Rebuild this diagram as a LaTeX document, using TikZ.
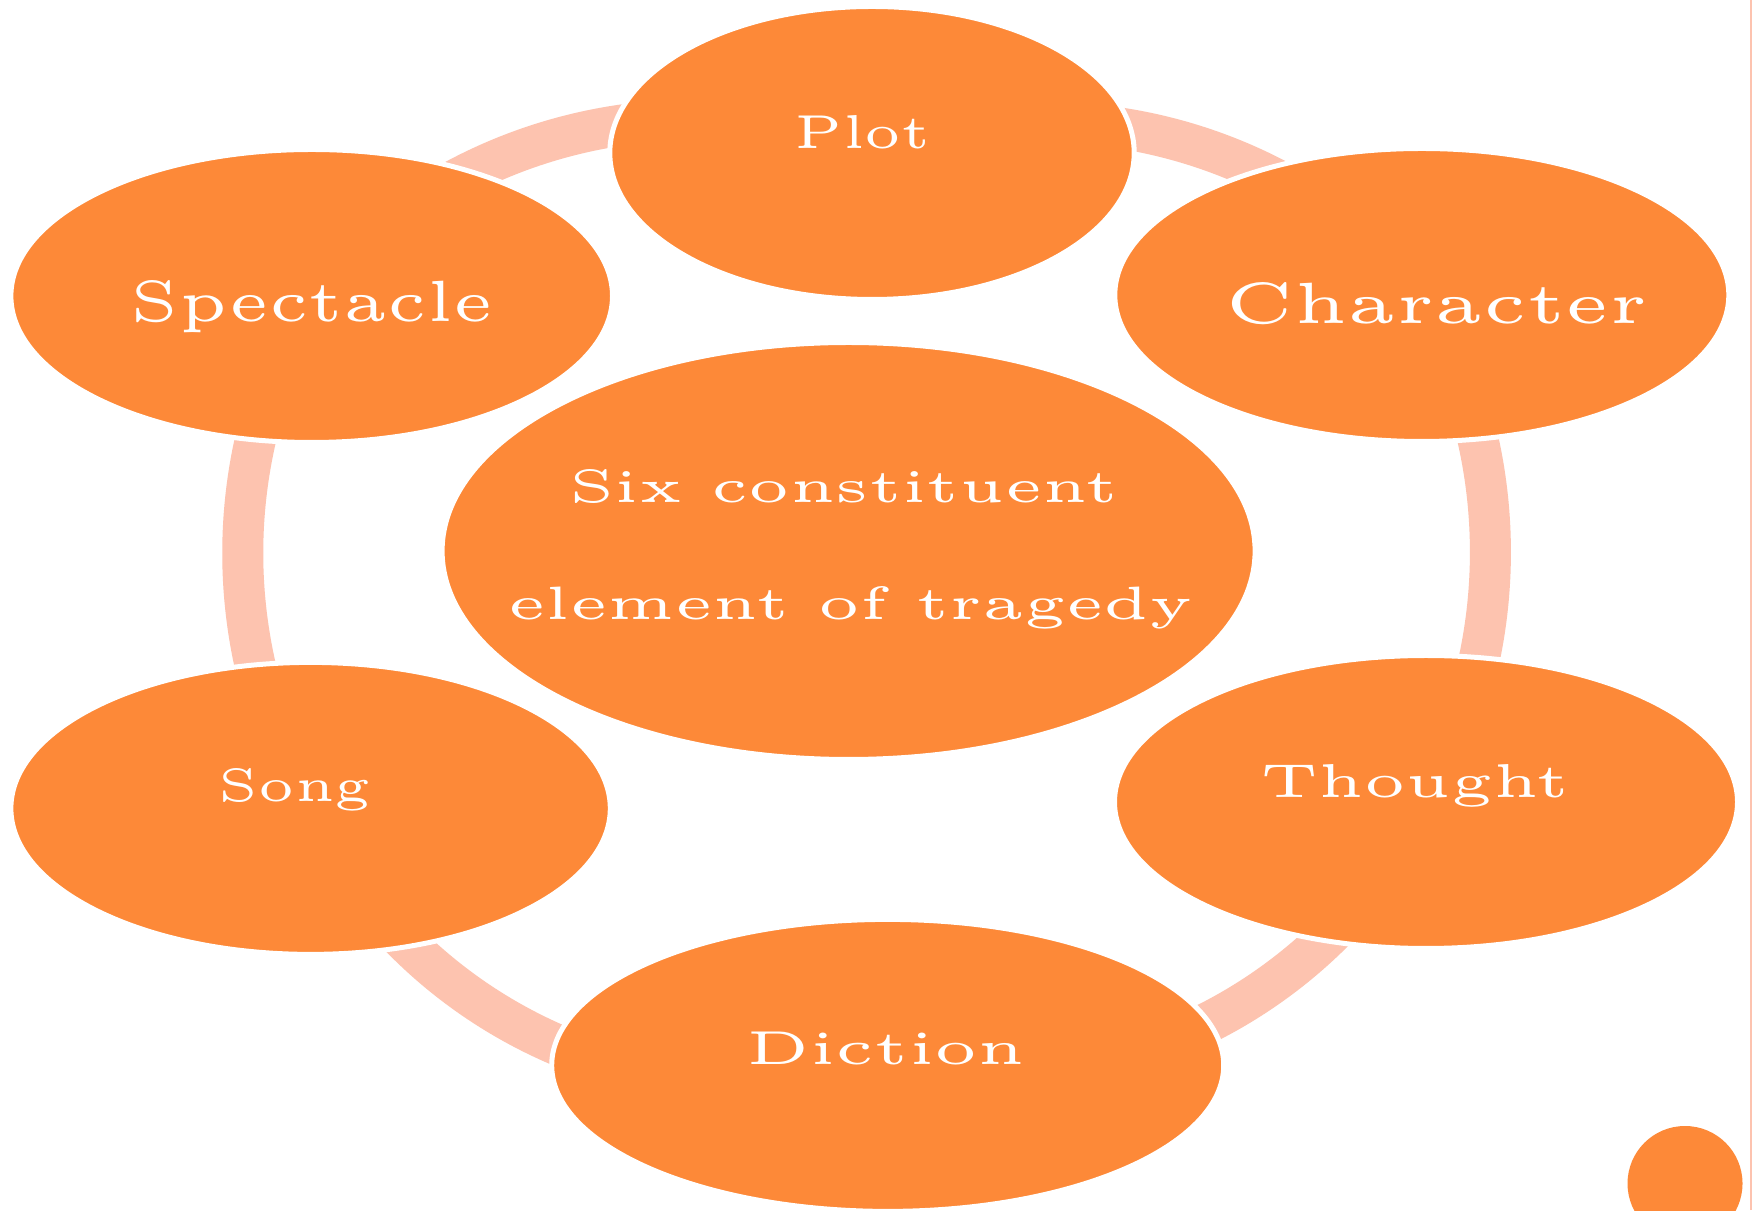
\documentclass[tikz,border=0pt]{standalone}
\usepackage{graphicx}
\usetikzlibrary{shapes.geometric,backgrounds}
\definecolor{nodeorange}{RGB}{253,137,56}
\definecolor{arcpink}{RGB}{253,195,175}
\newcommand{\lbltext}[3]{\resizebox{#1pt}{#2pt}{\fontsize{5}{6}\selectfont #3}}
\begin{document}
\begin{tikzpicture}[x=1pt,y=1pt,
  bubble/.style={ellipse, fill=nodeorange, draw=white, line width=5pt, inner sep=0pt, outer sep=0pt},
  lbl/.style={inner sep=0pt, outer sep=0pt, text=white, anchor=base},
  ring/.style={draw=arcpink, line width=41pt}]
\useasboundingbox (0,0) rectangle (1752,1210);
% outer ellipses
\node[bubble, minimum width=524.4pt, minimum height=293pt] (plot) at (872,1057) {};
\node[bubble, minimum width=601.6pt, minimum height=293pt] (spectacle) at (311.7,914) {};
\node[bubble, minimum width=614pt, minimum height=293pt] (character) at (1421.8,915) {};
\node[bubble, minimum width=599.4pt, minimum height=292pt] (song) at (310.6,401.6) {};
\node[bubble, minimum width=623pt, minimum height=293pt] (thought) at (1426,408) {};
\node[bubble, minimum width=672pt, minimum height=292pt] (diction) at (887.7,144.6) {};
% centre ellipse
\node[bubble, minimum width=813pt, minimum height=417pt] (centre) at (848.6,659) {};
% labels
\node[lbl] (plotlabel) at (862.6,1061.4) {\lbltext{136}{33}{Plot}};
\node[lbl] (spectaclelabel) at (311.7,888.2) {\lbltext{362}{41}{Spectacle}};
\node[lbl] (characterlabel) at (1436.8,886) {\lbltext{422}{41}{Character}};
\node[lbl] (centrelabelA) at (844,707.2) {\lbltext{548.6}{33}{Six constituent}};
\node[lbl] (centrelabelB) at (850.8,590) {\lbltext{685}{33}{element of tragedy}};
\node[lbl] (songlabel) at (295,408) {\lbltext{152}{33}{Song}};
\node[lbl] (thoughtlabel) at (1415,412.3) {\lbltext{309.5}{33}{Thought}};
\node[lbl] (dictionlabel) at (886,145.2) {\lbltext{279}{32.5}{Diction}};
% corner dot
\node[circle, fill=nodeorange, minimum size=115pt, inner sep=0pt, outer sep=0pt] (dot) at (1685,26.5) {};
% right edge line
\draw[draw=arcpink, line width=1.5pt] (1751.2,0) -- (1751.2,1210);
\begin{scope}[on background layer]
\fill[white] (0,0) rectangle (1752,1210);
\draw[ring] (spectacle.center) to[bend left=35.4, looseness=0.937] (plot.center);
\draw[ring] (plot.center) to[bend left=34.7, looseness=0.935] (character.center);
\draw[ring] (character.center) to[bend left=29.4, looseness=0.91] (thought.center);
\draw[ring] (thought.center) to[bend left=37.8, looseness=0.95] (diction.center);
\draw[ring] (diction.center) to[bend left=40.3, looseness=0.965] (song.center);
\draw[ring] (song.center) to[bend left=29.9, looseness=0.912] (spectacle.center);
\end{scope}
\end{tikzpicture}
\end{document}
